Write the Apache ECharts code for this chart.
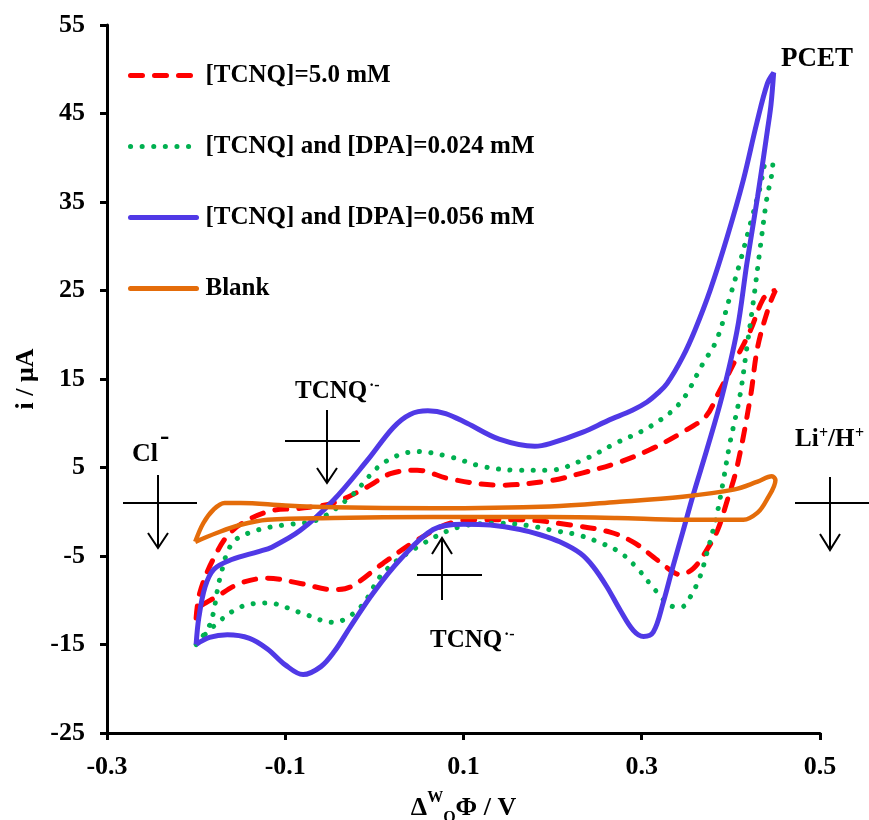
<!DOCTYPE html>
<html><head><meta charset="utf-8">
<script src="https://cdn.jsdelivr.net/npm/echarts@6/dist/echarts.min.js"></script>
<style>html,body{margin:0;padding:0;background:#fff}#c{width:869px;height:820px}</style>
</head><body><div id="c"></div>
<script>
// ---- data ----
const seriesNames = ['[TCNQ]=5.0 mM', '[TCNQ] and [DPA]=0.024 mM', '[TCNQ] and [DPA]=0.056 mM', 'Blank'];
const xTicks = [-0.3, -0.1, 0.1, 0.3, 0.5];
const yTicks = [-25, -15, -5, 5, 15, 25, 35, 45, 55];

const tcnq50 = [
  [-0.2,-12],[-0.196,-9.2],[-0.181,-5.4],[-0.159,-2.1],[-0.12,0.0],[-0.083,0.4],[-0.046,1.0],[-0.008,2.8],
  [0.018,4.3],[0.048,4.7],[0.085,3.7],[0.141,3.0],[0.197,3.5],[0.234,4.4],[0.272,5.5],[0.309,7.0],[0.346,9.0],
  [0.372,10.8],[0.385,13.2],[0.407,17.5],[0.422,20.5],[0.436,24.0],[0.446,24.9],[0.45,25],
  [0.443,23.3],[0.43,18.6],[0.422,13.0],[0.407,5.1],[0.396,1.3],[0.385,-2.1],[0.373,-4.3],[0.358,-6.4],
  [0.343,-7.1],[0.335,-6.8],[0.313,-5.1],[0.29,-3.4],[0.2645,-2.3],[0.22,-1.5],[0.1635,-0.9],[0.12,-0.9],[0.085,-1.3],
  [0.048,-3.2],[0.01,-5.8],[-0.027,-8.5],[-0.046,-8.8],[-0.083,-8.1],[-0.12,-7.5],[-0.151,-8.1],[-0.177,-9.6],
  [-0.196,-10.8],[-0.2,-12]
];
const dpa024 = [
  [-0.2,-15],[-0.184,-12.6],[-0.173,-7.4],[-0.159,-3.5],[-0.132,-2.1],[-0.102,-1.5],[-0.064,-0.9],[-0.027,1.7],
  [0.01,5.5],[0.048,6.8],[0.085,6.2],[0.122,5.1],[0.16,4.7],[0.197,4.7],[0.234,5.85],[0.272,7.8],[0.309,9.6],
  [0.343,12.3],[0.369,16.8],[0.384,19.4],[0.399,24.3],[0.41,28.1],[0.422,32.6],[0.433,36.7],[0.44,39.4],[0.447,39.2],
  [0.44,35.2],[0.433,29.9],[0.425,23.6],[0.418,18.6],[0.41,13.0],[0.399,7.8],[0.391,3.2],[0.385,0.0],
  [0.38,-2.1],[0.373,-4.7],[0.3655,-7.3],[0.354,-9.7],[0.344,-10.8],[0.332,-10.6],[0.313,-8.6],[0.296,-6.5],
  [0.2757,-4.6],[0.251,-3.4],[0.2275,-2.6],[0.2,-2.1],[0.175,-1.6],
  [0.141,-1.3],[0.096,-1.7],[0.048,-4.0],[0.01,-6.9],[-0.016,-10.8],[-0.046,-12.5],[-0.083,-11.4],[-0.12,-10.3],
  [-0.151,-10.8],[-0.181,-13.0],[-0.2,-15]
];
const dpa056 = [
  [-0.2,-15],[-0.197,-12],[-0.19,-8.5],[-0.18,-6.5],[-0.16,-5.4],[-0.13,-4.5],[-0.115,-4.0],[-0.083,-2.1],
  [-0.046,1.3],[-0.008,5.8],[0.021,9.5],[0.04,11.0],[0.06,11.4],[0.08,11.1],[0.104,10.0],[0.14,8.2],[0.18,7.4],
  [0.197,7.7],[0.234,9.0],[0.262,10.3],[0.29,11.5],[0.306,12.4],[0.318,13.4],[0.3285,14.5],[0.346,17.5],[0.36,20.6],
  [0.377,25.1],[0.396,31.1],[0.414,37.5],[0.429,43.9],[0.441,48.4],[0.448,49.6],
  [0.445,46.0],[0.441,43.1],[0.43,35.6],[0.418,28.1],[0.407,20.5],[0.39,13.0],[0.373,7.0],[0.358,2.0],
  [0.346,-2.3],[0.335,-6.2],[0.324,-10.3],[0.313,-13.6],[0.302,-14.1],[0.2905,-13.4],[0.2757,-11.1],[0.261,-8.5],
  [0.2455,-6.2],[0.231,-4.7],[0.208,-3.4],[0.186,-2.6],[0.1635,-2.0],[0.13,-1.5],[0.1,-1.4],[0.066,-2.0],[0.029,-5.4],
  [-0.0015,-9.2],[-0.027,-13.0],[-0.045,-15.8],
  [-0.06,-17.5],[-0.08,-18.4],[-0.1,-17.3],[-0.12,-15.5],[-0.14,-14.3],[-0.165,-13.9],[-0.185,-14.2],[-0.2,-15]
];
const blank = [
  [-0.201,-3.4],[-0.192,-1.3],[-0.18,0.3],[-0.168,1.0],[-0.15,1.0],[-0.1,0.7],[-0.046,0.5],[0.066,0.4],
  [0.197,0.6],[0.272,1.1],[0.346,1.7],[0.403,2.5],[0.43,3.4],[0.446,4.0],[0.45,3.6],
  [0.44,1.3],[0.43,-0.1],[0.414,-0.9],[0.346,-0.9],[0.272,-0.7],[0.197,-0.6],[0.066,-0.6],[-0.046,-0.7],
  [-0.12,-0.9],[-0.151,-1.5],[-0.177,-2.4],[-0.201,-3.4]
];
// ---- chart ----
const FF = 'Liberation Serif';
const chart = echarts.init(document.getElementById('c'), null, {renderer: 'canvas'});
function txt(text, x, y, size, align) {
  return {type: 'text', style: {text: text, x: x, y: y, fill: '#000', font: 'bold ' + size + 'px "' + FF + '"',
    textAlign: align || 'left', textVerticalAlign: 'middle'}};
}
function seg(x1, y1, x2, y2) {
  return {type: 'line', shape: {x1: x1, y1: y1, x2: x2, y2: y2}, style: {stroke: '#000', lineWidth: 2}};
}
function chev(pts) {
  return {type: 'polyline', shape: {points: pts}, style: {stroke: '#000', lineWidth: 2, fill: null}};
}
const colors = ['#FF0000', '#00B050', '#5039E6', '#E46C0A'];
const lineStyles = [
  {color: colors[0], width: 5, type: [12, 12], cap: 'round'},
  {color: colors[1], width: 5, type: [0.1, 11.5], cap: 'round'},
  {color: colors[2], width: 5, type: 'solid'},
  {color: colors[3], width: 4.5, type: 'solid'}
];
const datasets = [tcnq50, dpa024, dpa056, blank];
const option = {
  animation: false,
  backgroundColor: '#fff',
  grid: {left: 107, right: 49, top: 25, bottom: 87, containLabel: false, outerBoundsMode: 'none'},
  xAxis: {
    type: 'value', min: xTicks[0], max: xTicks[xTicks.length - 1], interval: 0.2,
    axisLine: {onZero: false, lineStyle: {color: '#000', width: 3}},
    axisTick: {show: true, inside: false, length: 7, lineStyle: {color: '#000', width: 3}},
    splitLine: {show: false},
    axisLabel: {color: '#000', fontFamily: FF, fontWeight: 'bold', fontSize: 26, margin: 21,
      formatter: v => (Math.round(v * 10) / 10).toString()},
    name: '{m|Δ}{sup|W}{sub|O}{m|Φ / V}', nameLocation: 'middle', nameGap: 57,
    nameTextStyle: {color: '#000', fontFamily: FF, fontWeight: 'bold', fontSize: 26,
      rich: {
        m: {fontFamily: FF, fontWeight: 'bold', fontSize: 26, lineHeight: 36, verticalAlign: 'middle', color: '#000'},
        sup: {fontFamily: FF, fontWeight: 'bold', fontSize: 16, lineHeight: 18, verticalAlign: 'top', color: '#000'},
        sub: {fontFamily: FF, fontWeight: 'bold', fontSize: 16, lineHeight: 18, verticalAlign: 'bottom', color: '#000'}
      }}
  },
  yAxis: {
    type: 'value', min: yTicks[0], max: yTicks[yTicks.length - 1], interval: 10,
    axisLine: {show: true, onZero: false, lineStyle: {color: '#000', width: 3}},
    axisTick: {show: true, inside: false, length: 7, lineStyle: {color: '#000', width: 3}},
    splitLine: {show: false},
    axisLabel: {color: '#000', fontFamily: FF, fontWeight: 'bold', fontSize: 26, margin: 22},
    name: 'i / μA', nameLocation: 'middle', nameGap: 64, nameRotate: 90,
    nameTextStyle: {color: '#000', fontFamily: FF, fontWeight: 'bold', fontSize: 26}
  },
  legend: {
    orient: 'vertical', left: 123, top: 58, itemWidth: 66, itemHeight: 14, itemGap: 46,
    selectedMode: false,
    itemStyle: {opacity: 0},
    lineStyle: {width: 5, cap: 'round'},
    textStyle: {color: '#000', fontFamily: FF, fontWeight: 'bold', fontSize: 25, padding: [0, 0, 0, 4]},
    data: seriesNames
  },
  series: datasets.map((d, i) => ({
    name: seriesNames[i], type: 'line', data: d, smooth: 0.35, symbol: 'none', showSymbol: false,
    lineStyle: lineStyles[i], itemStyle: {color: colors[i]}, z: 2 + i
  })),
  graphic: [
    txt('PCET', 817, 59, 27, 'center'),
    txt('Cl', 132, 454, 26),
    txt('-', 160, 437, 28),
    txt('TCNQ', 295, 392, 25),
    txt('·-', 369, 386, 16),
    txt('TCNQ', 430, 641, 25),
    txt('·-', 504, 635, 16),
    txt('Li', 795, 440, 25),
    txt('+', 819, 434, 16),
    txt('/H', 828, 440, 25),
    txt('+', 855, 434, 16),
    seg(123, 503, 197, 503), seg(158, 475, 158, 548), chev([[148, 533], [158, 548], [168, 533]]),
    seg(285, 441, 360, 441), seg(327, 410, 327, 483), chev([[317, 468], [327, 483], [337, 468]]),
    seg(417, 575, 482, 575), seg(442, 600, 442, 538), chev([[432, 554], [442, 538], [452, 554]]),
    seg(795, 503, 869, 503), seg(830, 477, 830, 550), chev([[820, 534], [830, 550], [840, 534]])
  ]
};
chart.setOption(option);
</script></body></html>
